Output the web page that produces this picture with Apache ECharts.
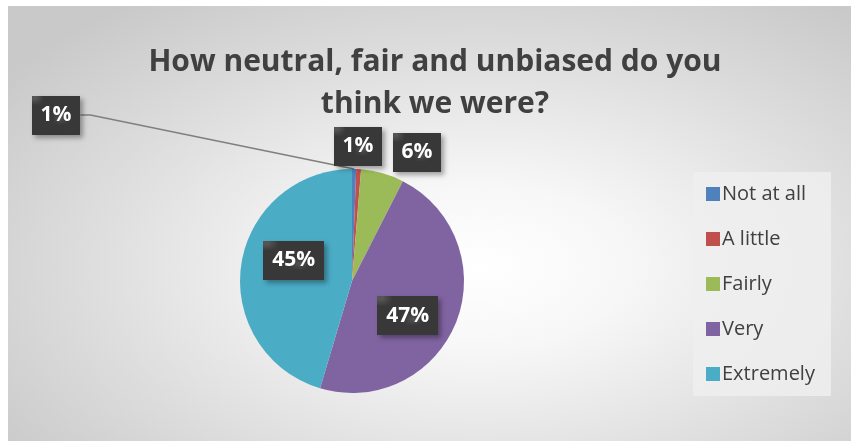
<!DOCTYPE html>
<html>
<head>
<meta charset="utf-8">
<script src="https://cdn.jsdelivr.net/npm/echarts@6/dist/echarts.min.js"></script>
<style>
html, body { margin: 0; padding: 0; background: #fff; }
#chart {
    position: absolute;
    left: 8px;
    top: 6px;
    width: 843px;
    height: 435px;
    background: radial-gradient(ellipse 70% 75% at 56% 60%, #ffffff 0%, #f7f7f7 25%, #dedede 65%, #c9c9c9 100%);
}
</style>
</head>
<body>
<div id="chart"></div>
<script>
var titleText = "How neutral, fair and unbiased do you\nthink we were?";
var categories = ["Not at all", "A little", "Fairly", "Very", "Extremely"];
var values = [0.6, 0.7, 6.2, 47.1, 45.4];
var colors = ["#4f81bd", "#c0504d", "#9bbb59", "#8064a2", "#4bacc6"];

// dotted dark texture for the label boxes
var tex = document.createElement("canvas");
tex.width = 6;
tex.height = 6;
var tctx = tex.getContext("2d");
tctx.fillStyle = "#383838";
tctx.fillRect(0, 0, 6, 6);
tctx.fillStyle = "#555555";
tctx.fillRect(0, 0, 1, 1);
tctx.fillRect(3, 3, 1, 1);

var chart = echarts.init(document.getElementById("chart"));

var data = categories.map(function (c, i) {
    return { name: c, value: values[i], itemStyle: { color: colors[i] } };
});

// label placement tweaks (px in the chart box)
var labelSpots = {
    0: { x: 48, y: 109 },
    1: { x: 350, y: 140 },
    2: { x: 409, y: 146 }
};
var labelNudge = {
    3: { dx: 1, dy: 13 },
    4: { dx: 0, dy: -12 }
};

chart.setOption({
    title: {
        text: titleText,
        left: 422,
        top: 30,
        textAlign: "center",
        textStyle: {
            fontFamily: "Open Sans",
            fontWeight: "bold",
            fontSize: 30,
            lineHeight: 42,
            color: "#404040"
        }
    },
    legend: {
        orient: "vertical",
        left: 685,
        top: 166,
        itemWidth: 14,
        itemHeight: 14,
        itemGap: 25,
        padding: [12, 16, 12, 13],
        backgroundColor: "rgba(238,238,238,0.85)",
        icon: "rect",
        textStyle: {
            fontFamily: "Open Sans",
            fontSize: 20,
            color: "#404040",
            padding: [0, 0, 0, -3]
        },
        data: categories
    },
    series: [
        {
            type: "pie",
            center: [344, 275],
            radius: [0, 112],
            startAngle: 90,
            clockwise: true,
            avoidLabelOverlap: false,
            data: data,
            label: {
                show: true,
                position: "inside",
                formatter: function (p) {
                    return Math.round(p.percent) + "%";
                },
                fontFamily: "Open Sans",
                fontWeight: "bold",
                fontSize: 21,
                color: "#ffffff",
                backgroundColor: { image: tex, repeat: "repeat" },
                padding: [9, 9, 9, 9],
                shadowColor: "rgba(0,0,0,0.35)",
                shadowBlur: 5,
                shadowOffsetX: 3,
                shadowOffsetY: 3
            },
            labelLine: { show: false },
            emphasis: { disabled: true }
        }
    ]
});

chart.setOption({
    series: [{
        data: data.map(function (d, i) {
            if (i === 0) {
                return Object.assign({}, d, {
                    label: { position: "outside" },
                    labelLine: {
                        show: true,
                        length: 10,
                        length2: 10,
                        lineStyle: { color: "#7f7f7f", width: 1.5 }
                    }
                });
            }
            return d;
        }),
        labelLayout: function (params) {
            var s = labelSpots[params.dataIndex];
            if (s) return { x: s.x, y: s.y, align: "center", verticalAlign: "middle" };
            var n = labelNudge[params.dataIndex];
            if (n) return { dx: n.dx, dy: n.dy };
            return {};
        }
    }]
});
</script>
</body>
</html>
